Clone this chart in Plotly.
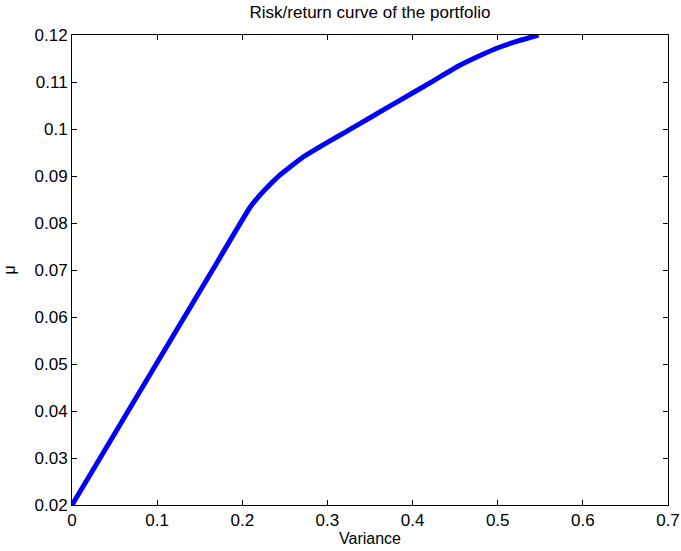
import plotly.graph_objects as go

variance = [0.0, 0.066, 0.17, 0.209, 0.221, 0.232, 0.244, 0.258, 0.271, 0.290,
            0.311, 0.330, 0.350, 0.385, 0.424, 0.455, 0.480, 0.502, 0.525, 0.548]
mu = [0.020, 0.040, 0.0715, 0.0833, 0.0860, 0.0881, 0.0902, 0.0922, 0.0940, 0.0961,
      0.0983, 0.1003, 0.1024, 0.1061, 0.1102, 0.1135, 0.1157, 0.1174, 0.1188, 0.1200]

x_ticks = [0, 0.1, 0.2, 0.3, 0.4, 0.5, 0.6, 0.7]
x_tick_labels = ["0", "0.1", "0.2", "0.3", "0.4", "0.5", "0.6", "0.7"]
y_ticks = [0.02, 0.03, 0.04, 0.05, 0.06, 0.07, 0.08, 0.09, 0.10, 0.11, 0.12]
y_tick_labels = ["0.02", "0.03", "0.04", "0.05", "0.06", "0.07", "0.08", "0.09", "0.1", "0.11", "0.12"]

fig = go.Figure()
fig.add_trace(go.Scatter(x=variance, y=mu, mode="lines",
                         line=dict(color="#0000ff", width=5, shape="spline", smoothing=0.5),
                         showlegend=False))

font = "Liberation Sans, Arial, sans-serif"
axis_common = dict(showgrid=False, zeroline=False, showline=True, linecolor="black",
                   linewidth=1, mirror="ticks", ticks="inside", ticklen=5,
                   tickcolor="black", automargin=False,
                   tickfont=dict(family=font, size=17, color="black"))

fig.update_layout(
    width=681, height=551,
    margin=dict(l=72, r=13, t=35, b=46, autoexpand=False),
    paper_bgcolor="white", plot_bgcolor="white",
    title=dict(text="Risk/return curve of the portfolio", x=0.5, xanchor="center",
               xref="paper", y=1 - 12 / 551, yanchor="middle",
               font=dict(family=font, size=17, color="black")),
    xaxis=dict(range=[0, 0.7], tickvals=x_ticks, ticktext=x_tick_labels,
               title=dict(text="Variance", standoff=3, font=dict(family=font, size=16, color="black")),
               **axis_common),
    yaxis=dict(range=[0.02, 0.12], tickvals=y_ticks, ticktext=y_tick_labels,
               title=dict(text="μ", standoff=14, font=dict(family=font, size=16, color="black")),
               **axis_common),
)

fig.write_html("out.html", config={"displayModeBar": False},
               post_script="document.body.style.margin='0';")
